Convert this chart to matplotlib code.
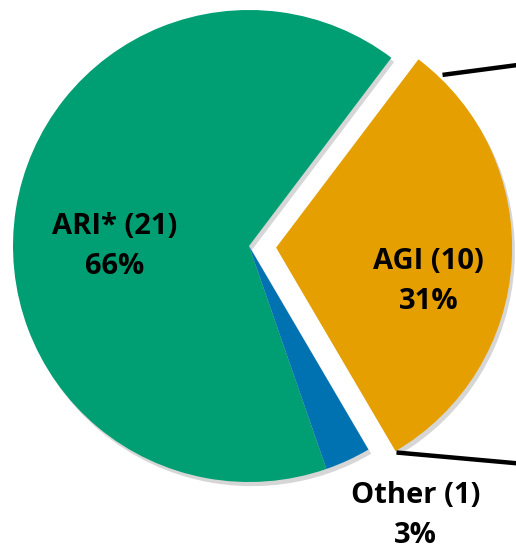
import matplotlib
matplotlib.use("Agg")
import matplotlib.pyplot as plt
from matplotlib import patheffects as pe

categories = ["AGI", "ARI*", "Other"]
counts = [10, 21, 1]
colors = ["#E69F00", "#009E73", "#0072B2"]
explode = [0.115, 0, 0]

total = sum(counts)
labels = [f"{c} ({n})\n{round(100 * n / total)}%" for c, n in zip(categories, counts)]

fig = plt.figure(figsize=(5.16, 5.52), dpi=100)
ax = fig.add_axes([0, 0, 1, 1])
R = 236.0
cx, cy = 249.0, 246.0

wedges, _ = ax.pie(counts, colors=colors, explode=explode, startangle=-59.6,
                   counterclock=True, radius=1.0,
                   wedgeprops=dict(linewidth=0))
for w in wedges:
    w.set_path_effects([pe.SimplePatchShadow(offset=(2, -3), shadow_rgbFace="#999999", alpha=0.4),
                        pe.Normal()])

ax.set_xlim(-cx / R, (516 - cx) / R)
ax.set_ylim(-(552 - cy) / R, cy / R)
ax.set_aspect("equal")
ax.axis("off")

# connector lines (pie-of-pie style, running off the right edge)
ax.plot([0.82, 1.35], [0.725, 0.795], color="black", lw=3.2, solid_capstyle="butt")
ax.plot([0.625, 1.35], [-0.875, -0.94], color="black", lw=3.2, solid_capstyle="butt")

font = dict(family="Open Sans", fontsize=21, fontweight="bold", ha="center", va="center",
            linespacing=1.5)
label_pos = {"AGI": (0.76, -0.15), "ARI*": (-0.57, 0.0), "Other": (0.705, -1.14)}
for c, lab in zip(categories, labels):
    x, y = label_pos[c]
    ax.text(x, y, lab, **font)

fig.savefig("out.png", dpi=100)
